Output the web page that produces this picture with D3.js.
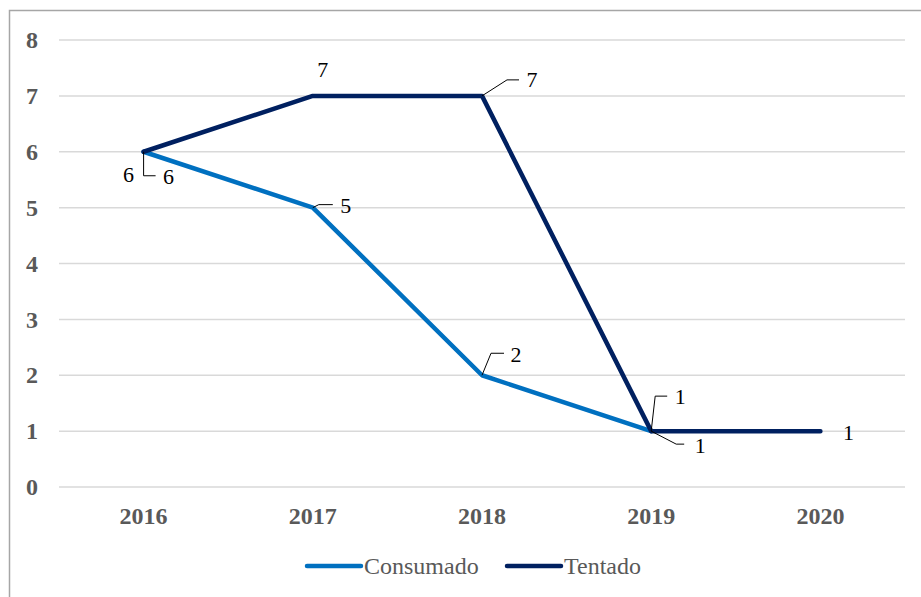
<!DOCTYPE html>
<html>
<head>
<meta charset="utf-8">
<script src="https://cdn.jsdelivr.net/npm/d3@7"></script>
<style>
body { margin: 0; background: #fff; }
svg { display: block; }
</style>
</head>
<body>
<svg width="921" height="597"></svg>
<script>
// data
var years = ["2016", "2017", "2018", "2019", "2020"]
var consumado = [6, 5, 2, 1, null]
var tentado = [6, 7, 7, 1, 1]
var yTicks = [0, 1, 2, 3, 4, 5, 6, 7, 8]

var serif = '"Liberation Serif"'

var svg = d3.select("svg"),
	margin = { top: 40, right: 16, bottom: 110, left: 59 },
	width = 905 - margin.left,
	height = 487 - margin.top

// outer frame of the chart area
svg.append("rect")
	.attr("x", 9.5).attr("y", 10.5)
	.attr("width", 930).attr("height", 600)
	.attr("fill", "none").attr("stroke", "#a6a6a6").attr("stroke-width", 1.5)

var x = d3.scaleBand().domain(years).range([0, width]),
	y = d3.scaleLinear().domain([0, 8]).range([height, 0])

var g = svg.append("g")
	.attr("transform", "translate(" + margin.left + "," + margin.top + ")")

// horizontal gridlines
g.selectAll(".grid")
	.data(yTicks)
	.enter().append("line")
		.attr("x1", 0).attr("x2", width)
		.attr("y1", function(d) { return y(d) })
		.attr("y2", function(d) { return y(d) })
		.attr("stroke", "#d9d9d9").attr("stroke-width", 1.5)

// y axis labels
var yAxis = g.append("g")
	.call(d3.axisLeft(y).tickValues(yTicks).tickSize(0).tickPadding(21))
yAxis.select(".domain").remove()
yAxis.selectAll("text")
	.style("font-family", serif).style("font-size", "24px").style("font-weight", "bold")
	.attr("fill", "#595959")

// x axis labels
var xAxis = g.append("g")
	.attr("transform", "translate(0," + height + ")")
	.call(d3.axisBottom(x).tickSize(0).tickPadding(20))
xAxis.select(".domain").remove()
xAxis.selectAll("text")
	.style("font-family", serif).style("font-size", "24px").style("font-weight", "bold")
	.attr("fill", "#595959")

var series = [
	{ name: "Consumado", values: consumado, color: "#0070c0" },
	{ name: "Tentado", values: tentado, color: "#002060" }
]

var line = d3.line()
	.defined(function(d) { return d != null })
	.x(function(d, i) { return x(years[i]) + x.bandwidth() / 2 })
	.y(function(d) { return y(d) })

series.forEach(function(s) {
	g.append("path")
		.datum(s.values)
		.attr("fill", "none")
		.attr("stroke", s.color)
		.attr("stroke-width", 4.5)
		.attr("stroke-linejoin", "round")
		.attr("stroke-linecap", "round")
		.attr("d", line)
})

// label placement for each point (text offset + optional leader line)
var labelPos = {
	Consumado: [
		{ t: [25, 25], lead: [[0, 0], [0, 24], [12, 24]] },
		{ t: [33, -2], lead: [[0, 0], [6, -3], [20, -3]] },
		{ t: [34, -21], lead: [[0, 0], [9, -22], [22, -22]] },
		{ t: [49, 14], lead: [[0, 0], [25, 13], [33, 13]] },
		null
	],
	Tentado: [
		{ t: [-15, 23] },
		{ t: [10, -26] },
		{ t: [50, -16], lead: [[0, 0], [25, -16], [37, -16]] },
		{ t: [29, -35], lead: [[0, 0], [4, -35], [16, -35]] },
		{ t: [28, 1] }
	]
}

series.forEach(function(s) {
	s.values.forEach(function(v, i) {
		var p = labelPos[s.name][i]
		if (v == null || !p) return
		var cx = x(years[i]) + x.bandwidth() / 2,
			cy = y(v)
		if (p.lead) {
			g.append("path")
				.attr("d", d3.line()(p.lead.map(function(q) { return [cx + q[0], cy + q[1]] })))
				.attr("fill", "none").attr("stroke", "#000").attr("stroke-width", 1)
		}
		g.append("text")
			.attr("x", cx + p.t[0]).attr("y", cy + p.t[1])
			.attr("text-anchor", "middle").attr("dominant-baseline", "central")
			.style("font-family", serif).style("font-size", "22px")
			.attr("fill", "#000")
			.text(v)
	})
})

// legend
var legend = svg.append("g").attr("transform", "translate(0,566)")
var legendX = [307, 507]
series.forEach(function(s, i) {
	var lg = legend.append("g").attr("transform", "translate(" + legendX[i] + ",0)")
	lg.append("line")
		.attr("x1", 0).attr("x2", 54).attr("y1", 0).attr("y2", 0)
		.attr("stroke", s.color).attr("stroke-width", 4.5).attr("stroke-linecap", "round")
	lg.append("text")
		.attr("x", 57).attr("y", 0)
		.attr("dominant-baseline", "central")
		.style("font-family", serif).style("font-size", "24px")
		.attr("fill", "#595959")
		.text(s.name)
})
</script>
</body>
</html>
